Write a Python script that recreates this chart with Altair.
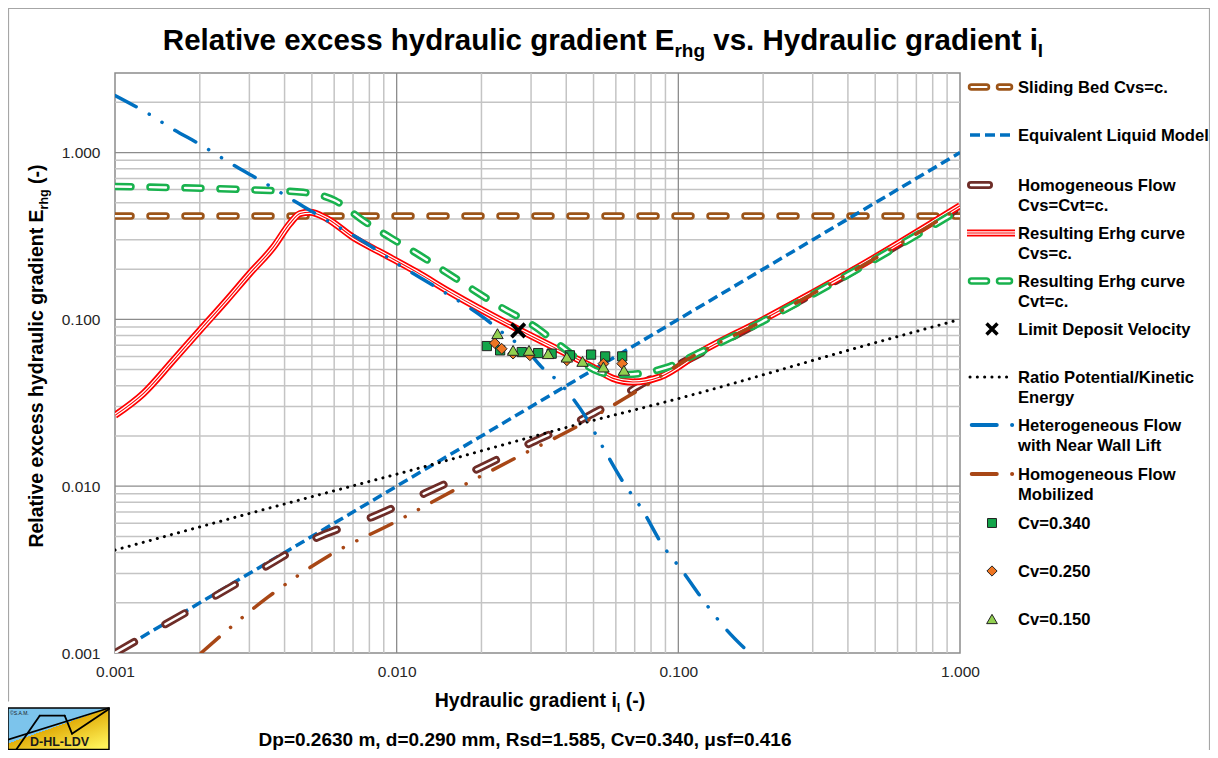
import altair as alt
import pandas as pd

FONT = "Liberation Sans"

# ------------------------------------------------------------------ data
x_ticks = [0.001, 0.01, 0.1, 1.0]
y_ticks = [0.001, 0.01, 0.1, 1.0]
x_minor = [0.002, 0.003, 0.004, 0.005, 0.006, 0.007, 0.008, 0.009,
           0.02, 0.03, 0.04, 0.05, 0.06, 0.07, 0.08, 0.09,
           0.2, 0.3, 0.4, 0.5, 0.6, 0.7, 0.8, 0.9]
y_minor = x_minor + [2.0]
x_major_grid = [0.01, 0.1]
y_major_grid = [0.01, 0.1, 1.0]

# Sliding bed Cvs=c.
sb_il = [0.001, 1.0]
sb_e = [0.416, 0.416]
# Equivalent liquid model
elm_il = [0.001, 1.0]
elm_e = [0.001, 1.0]
# Homogeneous flow Cvs=Cvt=c.
hom_il = [0.001, 0.0015, 0.00223, 0.0034, 0.00517, 0.00816, 0.0126, 0.0196,
          0.0302, 0.047, 0.0586, 0.0711, 0.1, 0.195, 0.44, 1.0]
hom_e = [0.001, 0.00148, 0.00216, 0.00327, 0.00489, 0.00652, 0.00908, 0.0128,
         0.0183, 0.0259, 0.0318, 0.0393, 0.0535, 0.096, 0.205, 0.47]
# Resulting Erhg curve Cvs=c.
res_s_il = [0.001, 0.00126, 0.00161, 0.002, 0.00249, 0.00301, 0.00365, 0.00418,
            0.00454, 0.00492, 0.00565, 0.0070, 0.00894, 0.01178, 0.01546, 0.02895,
            0.038, 0.0498, 0.0586, 0.069, 0.0861, 0.1194, 0.195, 0.44, 1.0]
res_s_e = [0.0266, 0.0359, 0.0568, 0.0859, 0.130, 0.1886, 0.271, 0.376,
           0.431, 0.439, 0.402, 0.311, 0.248, 0.192, 0.1457, 0.0821,
           0.0652, 0.0516, 0.0443, 0.0421, 0.0452, 0.0635, 0.0975, 0.208, 0.48]
# Resulting Erhg curve Cvt=c.
res_t_il = [0.001, 0.00203, 0.00355, 0.00465, 0.00604, 0.00759, 0.00962, 0.0121,
            0.0152, 0.02385, 0.0305, 0.038, 0.0527, 0.06, 0.069, 0.0912, 0.1194,
            0.195, 0.44, 1.0]
res_t_e = [0.626, 0.611, 0.592, 0.578, 0.516, 0.392, 0.305, 0.2417,
           0.1886, 0.1164, 0.092, 0.0699, 0.0482, 0.0465, 0.0469, 0.0516, 0.0634,
           0.0955, 0.203, 0.455]
# Limit deposit velocity
ldv_il = [0.027]
ldv_e = [0.0859]
# Ratio potential / kinetic energy
rat_il = [0.001, 0.0045, 0.01, 0.0455, 0.1, 0.4416, 1.0]
rat_e = [0.00414, 0.00825, 0.0118, 0.0238, 0.0335, 0.0683, 0.1]
# Heterogeneous flow with near wall lift
het_il = [0.001, 0.00133, 0.0016, 0.00199, 0.00269, 0.00332, 0.0045, 0.00552,
          0.00752, 0.01028, 0.0138, 0.0206, 0.0249, 0.029, 0.0327, 0.0355,
          0.0418, 0.0473, 0.054, 0.0641, 0.0739, 0.0879, 0.1028, 0.1253,
          0.1465, 0.1807]
het_e = [2.2, 1.689, 1.387, 1.127, 0.824, 0.673, 0.493, 0.401,
         0.297, 0.2105, 0.156, 0.101, 0.0783, 0.0652, 0.0518, 0.0462,
         0.0343, 0.0254, 0.0171, 0.0104, 0.00738, 0.00443, 0.00314, 0.00197,
         0.00141, 0.000986]
# Homogeneous flow mobilized
mob_il = [0.00202, 0.00349, 0.00579, 0.00984, 0.0165, 0.0276, 0.0478, 0.0586,
          0.0804, 0.1, 0.195, 0.44, 1.0]
mob_e = [0.001, 0.00216, 0.00386, 0.00608, 0.00973, 0.01533, 0.0248, 0.0305,
         0.0421, 0.0535, 0.096, 0.205, 0.47]
# Measurements
cv340_il = [0.0209, 0.0233, 0.0278, 0.0318, 0.0355, 0.0412, 0.0490, 0.055, 0.0632]
cv340_e = [0.0692, 0.0652, 0.0637, 0.0628, 0.0623, 0.0609, 0.0615, 0.060, 0.060]
cv250_il = [0.0223, 0.0236, 0.0259, 0.0297, 0.0402, 0.0542, 0.0632]
cv250_e = [0.0721, 0.0667, 0.0623, 0.0609, 0.0568, 0.0543, 0.0543]
cv150_il = [0.0228, 0.0259, 0.0295, 0.0345, 0.0402, 0.0457, 0.0542, 0.0641]
cv150_e = [0.0821, 0.0652, 0.0652, 0.0623, 0.0594, 0.056, 0.0518, 0.0495]

legend_labels = ["Sliding Bed Cvs=c.", "Equivalent Liquid Model",
                 "Homogeneous Flow\nCvs=Cvt=c.", "Resulting Erhg curve\nCvs=c.",
                 "Resulting Erhg curve\nCvt=c.", "Limit Deposit Velocity",
                 "Ratio Potential/Kinetic\nEnergy", "Heterogeneous Flow\nwith Near Wall Lift",
                 "Homogeneous Flow\nMobilized", "Cv=0.340", "Cv=0.250", "Cv=0.150"]

title_parts = ["Relative excess hydraulic gradient E", "rhg", " vs. Hydraulic gradient i", "l"]
xtitle_parts = ["Hydraulic gradient i", "l", " (-)"]
ytitle_parts = ["Relative excess hydraulic gradient E", "rhg", " (-)"]
footer_text = "Dp=0.2630 m, d=0.290 mm, Rsd=1.585, Cv=0.340, \u03bcsf=0.416"
logo_text = "D-HL-LDV"
logo_copy = "\u00a9S.A.M."

# ------------------------------------------------------------------ layout / style
W_PLOT, H_PLOT = 845, 580
PAD = {"left": 107, "top": 65, "right": 250, "bottom": 97}

C_SB = "#9C5418"
C_BLUE = "#0070C0"
C_HOM = "#6E2D28"
C_RED = "#FF0000"
C_GREEN = "#19B24E"
C_MOB = "#A84716"

xs = alt.Scale(type="log", domain=[0.001, 1.0], nice=False)
ys = alt.Scale(type="log", domain=[0.001, 3.0], nice=False)
xaxis = alt.Axis(values=x_ticks, format=".3f", title=None, grid=False, ticks=False,
                 domain=False, labelFont=FONT, labelFontSize=15.5, labelColor="#262626",
                 labelPadding=11, labelFlush=False, labelOverlap=False)
yaxis = alt.Axis(values=y_ticks, format=".3f", title=None, grid=False, ticks=False,
                 domain=False, labelFont=FONT, labelFontSize=15.5, labelColor="#262626",
                 labelPadding=15, labelFlush=False, labelOverlap=False)
X = alt.X("il:Q", scale=xs, axis=xaxis)
Y = alt.Y("e:Q", scale=ys, axis=yaxis)

ONE = pd.DataFrame({"k": [0]})


def df_of(il, e):
    return pd.DataFrame({"il": il, "e": e})


def line(df, color, width, dash=None, cap="butt", interp="monotone"):
    kw = dict(color=color, strokeWidth=width, strokeCap=cap, strokeJoin="round",
              clip=True, interpolate=interp)
    if dash:
        kw["strokeDash"] = dash
    return alt.Chart(df).mark_line(**kw).encode(x=X, y=Y)


def pts(df, shape, fill, size, stroke="#222222", sw=1.0):
    return alt.Chart(df).mark_point(shape=shape, filled=True, fill=fill, stroke=stroke,
                                    strokeWidth=sw, size=size, opacity=1,
                                    clip=True).encode(x=X, y=Y)


# Arial Bold advance widths (per 1000 em)
AB = {' ': 278, '(': 333, ')': 333, '-': 333, '.': 278, ',': 278, '=': 584, '/': 278,
      '\u03bc': 611, '\u00a9': 737}
AB.update({d: 556 for d in "0123456789"})
AB.update(dict(zip("ABCDEFGHIJKLMNOPQRSTUVWXYZ",
                   [722, 722, 722, 722, 667, 611, 778, 722, 278, 556, 722, 611, 833, 722,
                    778, 667, 778, 722, 667, 611, 722, 667, 944, 667, 667, 611])))
AB.update(dict(zip("abcdefghijklmnopqrstuvwxyz",
                   [556, 611, 556, 611, 556, 333, 611, 611, 278, 278, 556, 278, 889, 611,
                    611, 611, 611, 389, 556, 333, 611, 556, 778, 556, 556, 500])))


def tw(s, size):
    return sum(AB.get(c, 556) for c in s) * size / 1000.0


def rich(segs, x, y, angle=0):
    """segs: (text, size, shift). Centered on x (angle 0) or on y (angle 270)."""
    total = sum(tw(t, s) for t, s, _ in segs)
    pos = -total / 2.0
    out = []
    for t, s, sh in segs:
        lead = len(t) - len(t.lstrip())
        p = pos + tw(t[:lead], s)
        if angle == 0:
            px, py = x + p, y + sh
        else:
            px, py = x + sh, y - p
        out.append(alt.Chart(pd.DataFrame({"t": [t.strip()]})).mark_text(
            align="left", baseline="alphabetic", font=FONT, fontSize=s,
            fontWeight="bold", angle=angle, color="black").encode(
            x=alt.value(px), y=alt.value(py), text="t:N"))
        pos += tw(t, s)
    return out


def hrule(x1, x2, y, color, width, dash=None, cap="butt"):
    kw = dict(color=color, strokeWidth=width, strokeCap=cap)
    if dash:
        kw["strokeDash"] = dash
    return alt.Chart(ONE).mark_rule(**kw).encode(
        x=alt.value(x1), x2=alt.value(x2), y=alt.value(y))


def seg(x1, y1, x2, y2, color, width):
    return alt.Chart(ONE).mark_rule(color=color, strokeWidth=width, strokeCap="round").encode(
        x=alt.value(x1), x2=alt.value(x2), y=alt.value(y1), y2=alt.value(y2))


layers = []

# frame of the chart area
FR = "#a6a6a6"
layers += [seg(-106.5, -64.5, -106.5, 628, FR, 1.2),
           seg(-106.5, -64.5, 1094.5, -64.5, FR, 1.2),
           seg(1094.5, -64.5, 1094.5, 677, FR, 1.2)]

# grid
layers.append(alt.Chart(pd.DataFrame({"il": x_minor})).mark_rule(
    color="#c4c4c4", strokeWidth=1.5).encode(x=X))
layers.append(alt.Chart(pd.DataFrame({"e": y_minor})).mark_rule(
    color="#c4c4c4", strokeWidth=1.5).encode(y=Y))
layers.append(alt.Chart(pd.DataFrame({"il": x_major_grid})).mark_rule(
    color="#8c8c8c", strokeWidth=1.3).encode(x=X))
layers.append(alt.Chart(pd.DataFrame({"e": y_major_grid})).mark_rule(
    color="#8c8c8c", strokeWidth=1.3).encode(y=Y))

# series
d_sb = df_of(sb_il, sb_e)
layers += [line(d_sb, C_SB, 7.5, [16, 19], "round", "linear"),
           line(d_sb, "white", 2.2, [16, 19], "round", "linear")]
layers.append(line(df_of(elm_il, elm_e), C_BLUE, 3.5, [10, 5], "butt", "linear"))
d_hom = df_of(hom_il, hom_e)
layers += [line(d_hom, C_HOM, 8, [22, 36], "round"),
           line(d_hom, "white", 2.4, [22, 36], "round")]
d_rs = df_of(res_s_il, res_s_e)
layers += [line(d_rs, C_RED, 7, None, "butt"),
           line(d_rs, "white", 3.6, None, "butt"),
           line(d_rs, C_RED, 1.1, None, "butt")]
d_rt = df_of(res_t_il, res_t_e)
layers += [line(d_rt, C_GREEN, 7.5, [16, 19], "round"),
           line(d_rt, "white", 2.4, [16, 19], "round")]
layers.append(alt.Chart(df_of(ldv_il, ldv_e)).mark_point(
    shape="M-1,-1L1,1M-1,1L1,-1", filled=False, stroke="black", strokeWidth=3.8,
    size=180, opacity=1).encode(x=X, y=Y))
layers.append(line(df_of(rat_il, rat_e), "black", 3, [0.1, 7.2], "round"))
layers.append(line(df_of(het_il, het_e), C_BLUE, 3.5, [24, 15, 0.1, 15, 0.1, 15], "round"))
layers.append(line(df_of(mob_il, mob_e), C_MOB, 3.5, [24, 15, 0.1, 15, 0.1, 15], "round"))
layers.append(pts(df_of(cv340_il, cv340_e), "square", "#13A54A", 85))
layers.append(pts(df_of(cv250_il, cv250_e), "diamond", "#EE7522", 115))
layers.append(pts(df_of(cv150_il, cv150_e), "triangle-up", "#92D050", 130))

# ------------------------------------------------------------------ legend
LX0, LX1, LTX, LMX = 852, 900, 903, 877
leg_y = [14, 62, 112, 160, 208, 256, 304, 352, 401, 450, 498, 546]
yy = leg_y
layers += [hrule(856.5, 894.5, yy[0], C_SB, 7.5, [15, 13], "round"),
           hrule(856.5, 894.5, yy[0], "white", 2.2, [15, 13], "round")]
layers.append(hrule(855, 895, yy[1], C_BLUE, 3.5, [10, 5]))
layers += [hrule(856, 874, yy[2], C_HOM, 8, None, "round"),
           hrule(856, 874, yy[2], "white", 2.4, None, "round")]
layers += [hrule(LX0, LX1, yy[3], C_RED, 7), hrule(LX0, LX1, yy[3], "white", 3.6),
           hrule(LX0, LX1, yy[3], C_RED, 1.1)]
layers += [hrule(856.5, 894.5, yy[4], C_GREEN, 7.5, [15, 13], "round"),
           hrule(856.5, 894.5, yy[4], "white", 2.4, [15, 13], "round")]
layers.append(alt.Chart(ONE).mark_point(
    shape="M-1,-1L1,1M-1,1L1,-1", filled=False, stroke="black", strokeWidth=3.5,
    size=120, opacity=1).encode(x=alt.value(LMX), y=alt.value(yy[5])))
layers.append(hrule(855, 896, yy[6], "black", 3, [0.1, 7.2], "round"))
layers.append(hrule(856.75, 898.5, yy[7], C_BLUE, 4, [25, 15.3, 0.1, 100], "round"))
layers.append(hrule(856.75, 898.5, yy[8], C_MOB, 4, [25, 15.3, 0.1, 100], "round"))
for i, (shape, fill, size) in enumerate([("square", "#13A54A", 80),
                                          ("diamond", "#EE7522", 105),
                                          ("triangle-up", "#92D050", 115)]):
    layers.append(alt.Chart(ONE).mark_point(
        shape=shape, filled=True, fill=fill, stroke="#222222", strokeWidth=1,
        size=size, opacity=1).encode(x=alt.value(LMX), y=alt.value(yy[9 + i])))
for lab, y in zip(legend_labels, leg_y):
    layers.append(alt.Chart(pd.DataFrame({"t": [lab]})).mark_text(
        align="left", baseline="alphabetic", font=FONT, fontSize=16.6, fontWeight="bold",
        lineBreak="\n", lineHeight=19.5, color="black").encode(
        x=alt.value(LTX), y=alt.value(y + 6), text="t:N"))

# ------------------------------------------------------------------ titles
layers += rich([(title_parts[0], 29.5, 0), (title_parts[1], 19, 7),
                (title_parts[2], 29.5, 0), (title_parts[3], 19, 7)], 488, -23)
layers += rich([(xtitle_parts[0], 19.5, 0), (xtitle_parts[1], 12.5, 5),
                (xtitle_parts[2], 19.5, 0)], 425, 634)
layers += rich([(ytitle_parts[0], 19.5, 0), (ytitle_parts[1], 12.5, 5),
                (ytitle_parts[2], 19.5, 0)], -72, 283, angle=270)
layers += rich([(footer_text, 19, 0)], 410, 673)

# ------------------------------------------------------------------ logo
grad = alt.LinearGradient(
    gradient="linear", x1=0, y1=0, x2=0.854, y2=1,
    stops=[alt.GradientStop(color="#7CC4EC", offset=0),
           alt.GradientStop(color="#7CC4EC", offset=0.494),
           alt.GradientStop(color="#E2AE0A", offset=0.494),
           alt.GradientStop(color="#FFF35A", offset=1)])
layers.append(alt.Chart(ONE).mark_rect(fill=grad, stroke="black", strokeWidth=1.5).encode(
    x=alt.value(-107), x2=alt.value(-6), y=alt.value(635), y2=alt.value(676.5)))
layers.append(seg(-107, 666.7, -6, 635, "black", 1.6))
for a, b in [((-98.7, 676.5), (-75.3, 642.7)), ((-75.3, 642.7), (-50.3, 642.7)),
             ((-50.3, 642.7), (-43, 660.7)), ((-43, 660.7), (-6, 636))]:
    layers.append(seg(a[0], a[1], b[0], b[1], "black", 1.8))
layers.append(alt.Chart(pd.DataFrame({"t": [logo_text]})).mark_text(
    align="center", baseline="alphabetic", font=FONT, fontSize=12.5, fontWeight="bold",
    color="#1a1a1a").encode(x=alt.value(-55.5), y=alt.value(672.5), text="t:N"))
layers.append(alt.Chart(pd.DataFrame({"t": [logo_copy]})).mark_text(
    align="left", baseline="alphabetic", font=FONT, fontSize=5, color="#1a1a1a").encode(
    x=alt.value(-105), y=alt.value(642), text="t:N"))

chart = alt.layer(*layers).properties(
    width=W_PLOT, height=H_PLOT, padding=PAD,
    autosize=alt.AutoSizeParams(type="none"), background="white"
).configure_view(stroke="#8c8c8c", strokeWidth=1.5)

chart.save("out.html", embed_options={"renderer": "svg", "actions": False})
